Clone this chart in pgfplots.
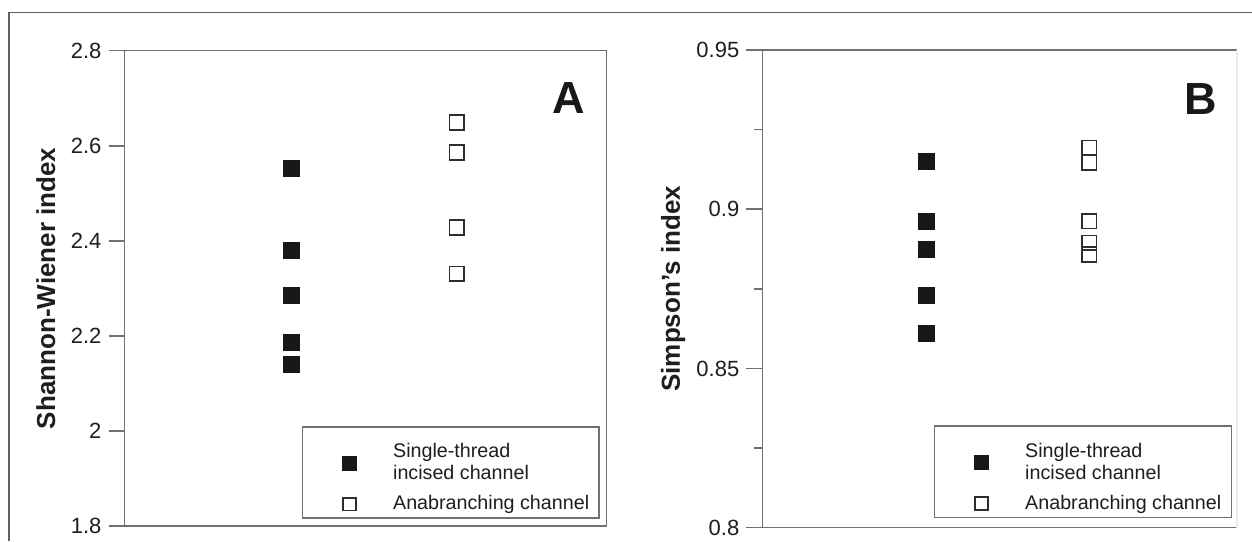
\documentclass[border=0pt]{standalone}
\usepackage{pgfplots}
\pgfplotsset{compat=1.18}
\usepackage{fontspec}
\setmainfont{Liberation Sans}
\definecolor{spine}{RGB}{112,112,112}
\definecolor{framec}{RGB}{96,96,96}
\definecolor{markc}{RGB}{24,24,24}
\definecolor{openc}{RGB}{45,45,45}
\definecolor{txt}{RGB}{30,30,30}
\pgfplotsset{
  panel/.style={
    scale only axis,
    xmin=0, xmax=1,
    xtick=\empty,
    tick align=outside,
    ytick pos=left,
    major tick length=8pt,
    minor tick length=4pt,
    every tick/.style={spine, line width=0.75pt},
    axis line style={spine, line width=0.75pt},
    yticklabel style={font=\fontsize{11}{13}\selectfont, text=txt},
    /pgf/number format/assume math mode=true,
    ylabel style={font=\bfseries\fontsize{13}{15}\selectfont, text=txt, anchor=base},
    legend style={draw=spine, line width=0.75pt, anchor=south east,
       font=\fontsize{9.85}{11}\selectfont, text=txt,
       inner xsep=5pt, inner ysep=2.5pt, column sep=18.5pt, row sep=6.4pt,
       nodes={inner sep=0pt}},
    legend cell align=left,
    clip=false,
  },
  filledsq/.style={only marks, mark=square*, mark size=3.9pt,
     mark options={fill=markc, draw=markc, line width=0.6pt},
     legend image code/.code={\path (-18pt,0pt) (0pt,15.3pt); \draw[mark repeat=2, mark phase=2, ##1, mark size=3.4pt] plot coordinates {(-0.1pt,0pt) (0pt,0pt) (0.1pt,0pt)};}},
  opensq/.style={only marks, mark=square, mark size=3.65pt,
     mark options={draw=openc, fill=white, line width=0.8pt},
     legend image code/.code={\path (-18pt,0pt); \draw[mark repeat=2, mark phase=2, ##1, mark size=3.2pt] plot coordinates {(-0.1pt,0pt) (0pt,0pt) (0.1pt,0pt)};}},
}
\begin{document}
\begin{tikzpicture}
\useasboundingbox (0pt,0pt) rectangle (626pt,270.5pt);
\draw[framec, line width=0.65pt] (4.5pt,0pt) -- (4.5pt,264.25pt) -- (626pt,264.25pt);

% Panel A
\begin{axis}[panel,
  at={(62.25pt,7.5pt)}, anchor=south west,
  width=241.1pt, height=237.65pt,
  ymin=1.8, ymax=2.8,
  ytick={1.8,2.0,2.2,2.4,2.6,2.8},
  ylabel={Shannon-Wiener index},
  ylabel style={at={(axis description cs:-0.1441,0.5)}},
  legend style={at={(rel axis cs:0.986,0.0154)}},
]
\addplot[filledsq] coordinates {(0.346,2.552) (0.346,2.379) (0.346,2.285) (0.346,2.186) (0.346,2.139)};
\addlegendentry[align=left]{Single-thread\\incised channel}
\addplot[opensq] coordinates {(0.689,2.649) (0.689,2.586) (0.689,2.428) (0.689,2.331)};
\addlegendentry{Anabranching channel}
\node[font=\bfseries\fontsize{22.5}{25}\selectfont, inner sep=0pt, text=markc] at (rel axis cs:0.9218,0.8994) {A};
\end{axis}

% Panel B
\begin{axis}[panel,
  at={(381.15pt,6.65pt)}, anchor=south west,
  width=237.35pt, height=238.85pt,
  axis x line*=box, axis y line*=left,
  x axis line style={-}, y axis line style={-},
  ymin=0.8, ymax=0.95,
  ytick={0.8,0.85,0.9,0.95},
  minor ytick={0.825,0.875,0.925},
  ylabel={Simpson's index},
  ylabel style={at={(axis description cs:-0.1734,0.5)}},
  legend style={at={(rel axis cs:0.9895,0.0203)}},
]
\addplot[filledsq] coordinates {(0.346,0.9149) (0.346,0.8961) (0.346,0.8873) (0.346,0.8728) (0.346,0.8610)};
\addlegendentry[align=left]{Single-thread\\incised channel}
\addplot[opensq] coordinates {(0.689,0.9193) (0.689,0.9146) (0.689,0.8963) (0.689,0.8895) (0.689,0.8858)};
\addlegendentry{Anabranching channel}
\draw[black!8, line width=0.75pt] (rel axis cs:1,0) -- (rel axis cs:1,1);
\node[font=\bfseries\fontsize{22.5}{25}\selectfont, inner sep=0pt, text=markc] at (rel axis cs:0.923,0.8978) {B};
\end{axis}
\end{tikzpicture}
\end{document}
